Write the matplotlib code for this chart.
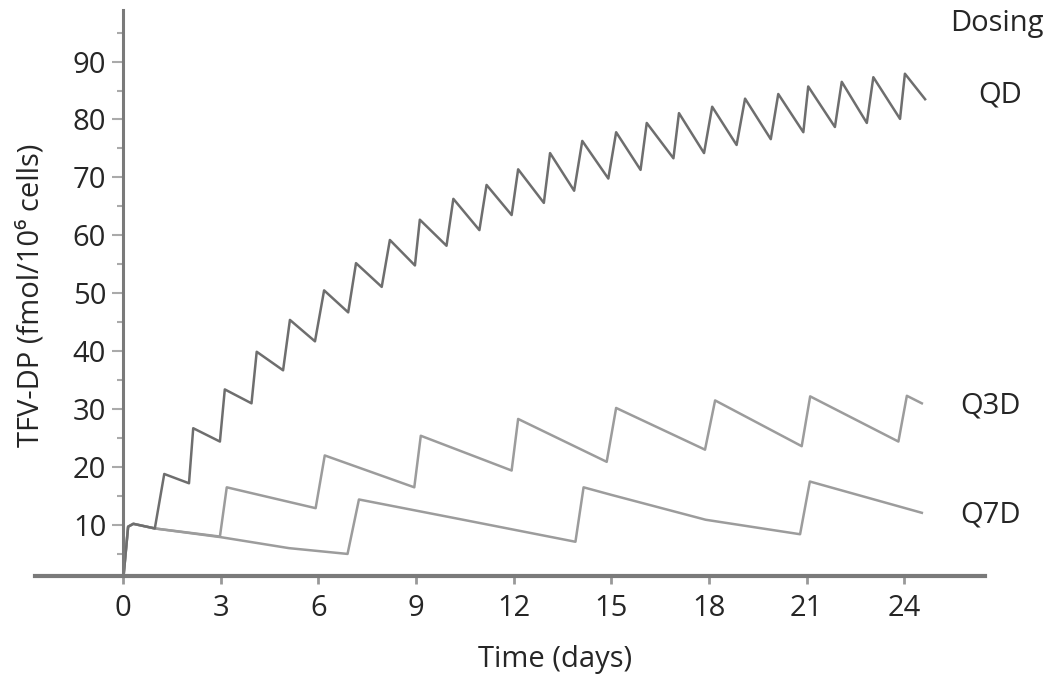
import matplotlib
matplotlib.use('Agg')
import matplotlib.pyplot as plt
from matplotlib.ticker import MultipleLocator

plt.rcParams['font.family'] = ['Open Sans', 'DejaVu Sans']

# daily dosing: trough / peak pairs, days vs fmol per 10^6 cells
qd_t = [0, 0.16, 0.32, 0.98, 1.27, 2.03, 2.16, 2.98, 3.13, 3.95, 4.11, 4.92,
        5.13, 5.90, 6.18, 6.92, 7.16, 7.95, 8.20, 8.97, 9.12, 9.94, 10.15,
        10.95, 11.17, 11.94, 12.14, 12.93, 13.12, 13.86, 14.11, 14.91, 15.15,
        15.90, 16.09, 16.91, 17.08, 17.85, 18.10, 18.85, 19.11, 19.90, 20.13,
        20.90, 21.05, 21.87, 22.08, 22.85, 23.05, 23.87, 24.02, 24.64]
qd_v = [0, 9.7, 10.2, 9.4, 18.8, 17.2, 26.7, 24.4, 33.4, 31.0, 39.9, 36.7,
        45.4, 41.7, 50.5, 46.7, 55.2, 51.1, 59.2, 54.8, 62.7, 58.2, 66.3,
        60.9, 68.7, 63.5, 71.4, 65.6, 74.2, 67.7, 76.3, 69.8, 77.8,
        71.3, 79.4, 73.3, 81.1, 74.2, 82.2, 75.6, 83.6, 76.6, 84.4,
        77.8, 85.7, 78.7, 86.5, 79.4, 87.3, 80.1, 87.9, 83.5]

# every third day
q3d_t = [0, 0.16, 0.32, 0.98, 2.98, 3.19, 5.92, 6.20, 8.95, 9.15, 11.94,
         12.14, 14.86, 15.15, 17.88, 18.19, 20.85, 21.11, 23.82, 24.08, 24.54]
q3d_v = [0, 9.7, 10.2, 9.4, 8.0, 16.5, 12.9, 22.0, 16.5, 25.4, 19.4,
         28.3, 20.9, 30.2, 23.0, 31.5, 23.6, 32.2, 24.4, 32.3, 31.0]

# weekly
q7d_t = [0, 0.16, 0.32, 0.98, 3.0, 5.1, 6.9, 7.25, 10.45, 13.9, 14.15, 15.0,
         17.9, 20.8, 21.1, 24.54]
q7d_v = [0, 9.7, 10.2, 9.4, 7.9, 6.0, 5.0, 14.4, 10.9, 7.1, 16.5, 15.2,
         10.9, 8.4, 17.5, 12.1]

x_ticks = list(range(0, 25, 3))
y_ticks = list(range(10, 91, 10))
text_c = '#262626'
axis_c = '#7a7a7a'

W, H = 1049, 679
fig = plt.figure(figsize=(W / 100, H / 100), dpi=100)
ax = fig.add_axes([35 / W, 1 - 576 / H, (985 - 35) / W, (576 - 10) / H])

ax.plot(q7d_t, q7d_v, c='#9c9c9c', lw=1.8)
ax.plot(q3d_t, q3d_v, c='#9c9c9c', lw=1.8)
ax.plot(qd_t, qd_v, c='#6e6e6e', lw=1.8)

ax.set_xlim(-2.70, 26.48)
ax.set_ylim(1.19, 98.9)

for s in ('top', 'right'):
    ax.spines[s].set_visible(False)
ax.spines['left'].set_position(('data', 0))
ax.spines['left'].set_color(axis_c)
ax.spines['left'].set_linewidth(2.2)
ax.spines['bottom'].set_color(axis_c)
ax.spines['bottom'].set_linewidth(3.0)

ax.set_xticks(x_ticks)
ax.set_yticks(y_ticks)
ax.yaxis.set_minor_locator(MultipleLocator(5))
ax.tick_params(axis='x', length=6, width=2, color='#999999', pad=7,
               labelsize=21, labelcolor=text_c)
ax.tick_params(axis='y', which='major', length=8, width=1.5, color='#aaaaaa',
               pad=4, labelsize=21, labelcolor=text_c)
ax.tick_params(axis='y', which='minor', length=4, width=1.5, color='#aaaaaa')

fig.text(31 / W, 1 - 295 / H, 'TFV-DP (fmol/10⁶ cells)', rotation=90,
         ha='center', va='center', fontsize=21, color=text_c)
fig.text(555 / W, 1 - 660 / H, 'Time (days)', ha='center', va='center',
         fontsize=21, color=text_c)

fig.text(997 / W, 1 - 24 / H, 'Dosing', ha='center', va='center',
         fontsize=21, color=text_c)
fig.text(1000 / W, 1 - 95 / H, 'QD', ha='center', va='center',
         fontsize=21, color=text_c)
fig.text(990 / W, 1 - 406 / H, 'Q3D', ha='center', va='center',
         fontsize=21, color=text_c)
fig.text(990 / W, 1 - 515 / H, 'Q7D', ha='center', va='center',
         fontsize=21, color=text_c)

fig.savefig('out.png', dpi=100)
